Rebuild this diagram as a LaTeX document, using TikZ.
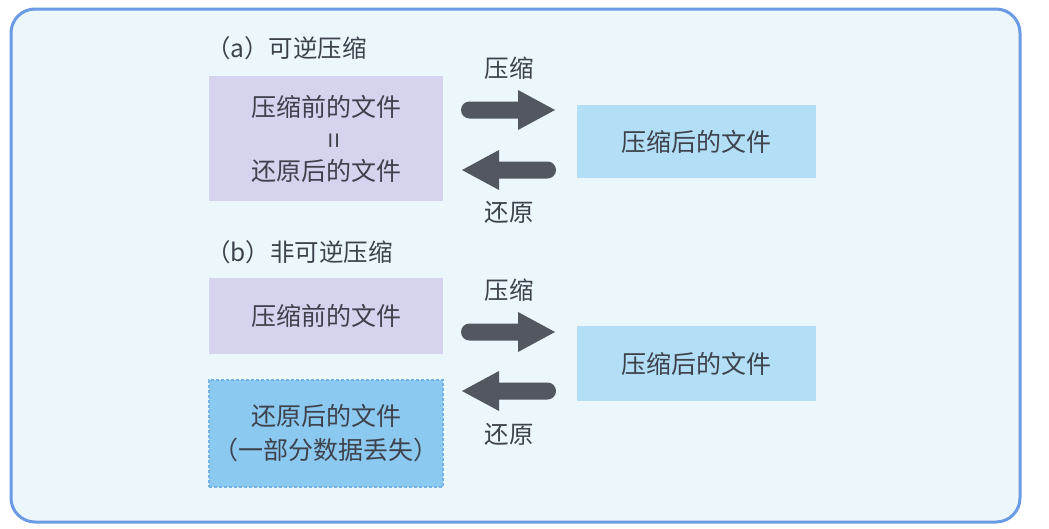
\documentclass[tikz,border=0pt]{standalone}
\usepackage{fontspec}
\newfontfamily\cjk{Noto Sans CJK SC}
\definecolor{bgcol}{HTML}{ECF7FC}
\definecolor{framecol}{HTML}{6C9BE6}
\definecolor{lav}{HTML}{D6D3EE}
\definecolor{lblue}{HTML}{B2DFF6}
\definecolor{mblue}{HTML}{8CC9F0}
\definecolor{medge}{HTML}{72B2E6}
\definecolor{txt}{HTML}{3E424C}
\definecolor{arrowcol}{HTML}{53575F}
\tikzset{
  box/.style={inner sep=0pt, align=center, text=txt, font=\cjk\fontsize{25}{34}\selectfont},
  lbl/.style={inner sep=0pt, text=txt, font=\cjk\fontsize{24.5}{28}\selectfont},
  pics/fatarrow/.style={code={
    \fill[arrowcol] (-38.5,-8.5) -- (10,-8.5) -- (10,-20) -- (47,0) -- (10,20) -- (10,8.5) -- (-38.5,8.5) arc (90:270:8.5) -- cycle;
  }}
}
\begin{document}
\begin{tikzpicture}[x=1pt,y=-1pt]
\useasboundingbox (0,0) rectangle (1049,528);
\fill[white] (0,0) rectangle (1049,528);
\draw[framecol, line width=3pt, fill=bgcol, rounded corners=24pt] (11,9) rectangle (1020,522);

% (a)
\node[lbl, anchor=west] (la) at (206,48) {（a）可逆压缩};
\node[box, fill=lav, minimum width=234pt, minimum height=125pt] (A1) at (326,138.5)
  {压缩前的文件\\[-2pt]\hspace*{22pt}{\fontsize{28}{28}\selectfont\rotatebox{90}{=}}\\[-2pt]还原后的文件};
\node[box, fill=lblue, minimum width=239pt, minimum height=73pt] (A2) at (696.5,141.5) {压缩后的文件};
\coordinate (ar1) at (508,110);
\coordinate (ar2) at (509,170);
\pic at (ar1) {fatarrow};
\pic[xscale=-1] at (ar2) {fatarrow};
\node[lbl] (ca) at (509,68) {压缩};
\node[lbl] (ra) at (509,212) {还原};

% (b)
\node[lbl, anchor=west] (lb) at (206,252) {（b）非可逆压缩};
\node[box, fill=lav, minimum width=234pt, minimum height=76pt] (B1) at (326,315.5) {压缩前的文件};
\node[box, fill=lblue, minimum width=239pt, minimum height=75pt] (B2) at (696.5,363.5) {压缩后的文件};
\node[box, fill=mblue, draw=medge, densely dashed, line width=1.2pt, minimum width=234pt, minimum height=107pt] (B3) at (326,433.5)
  {还原后的文件\\（一部分数据丢失）};
\coordinate (br1) at (508,332);
\coordinate (br2) at (509,391);
\pic at (br1) {fatarrow};
\pic[xscale=-1] at (br2) {fatarrow};
\node[lbl] (cb) at (509,290) {压缩};
\node[lbl] (rb) at (509,434) {还原};
\end{tikzpicture}
\end{document}
